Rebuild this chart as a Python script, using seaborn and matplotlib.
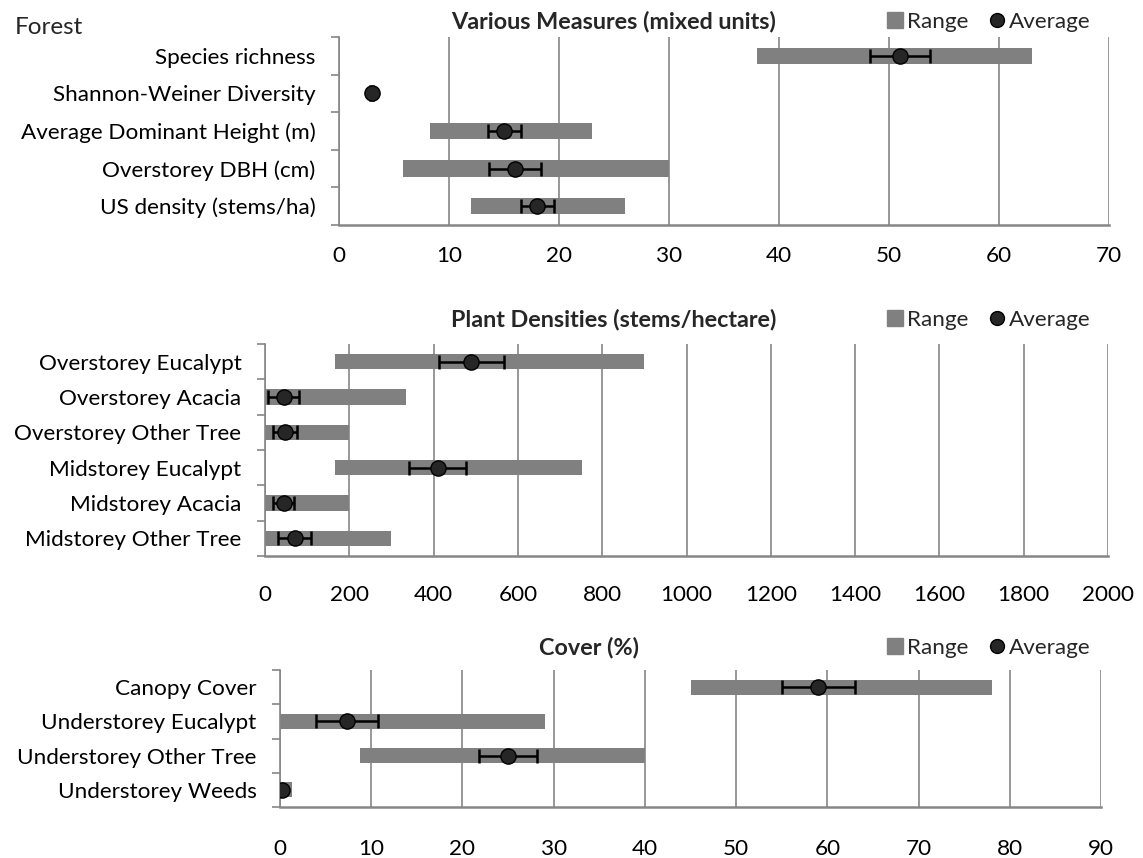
import numpy as np
import pandas as pd
import matplotlib
matplotlib.use("Agg")
import matplotlib.pyplot as plt
from matplotlib.lines import Line2D
import seaborn as sns

# ---- Panel 1: various measures (mixed units) ----
p1_categories = ["Species richness", "Shannon-Weiner Diversity",
                 "Average Dominant Height (m)", "Overstorey DBH (cm)",
                 "US density (stems/ha)"]
p1_low = [38, 2.7, 8.3, 5.8, 12]
p1_high = [63, 3.3, 23, 30, 26]
p1_mean = [51, 3.0, 15, 16, 18]
p1_err = [2.7, 0.05, 1.5, 2.4, 1.5]
p1_ticks = [0, 10, 20, 30, 40, 50, 60, 70]

# ---- Panel 2: plant densities (stems/hectare) ----
p2_categories = ["Overstorey Eucalypt", "Overstorey Acacia",
                 "Overstorey Other Tree", "Midstorey Eucalypt",
                 "Midstorey Acacia", "Midstorey Other Tree"]
p2_low = [166, 0, 0, 166, 0, 0]
p2_high = [900, 335, 200, 752, 200, 300]
p2_mean = [489, 44, 48, 410, 44, 70]
p2_err = [77, 37, 28, 68, 24, 40]
p2_ticks = [0, 200, 400, 600, 800, 1000, 1200, 1400, 1600, 1800, 2000]

# ---- Panel 3: cover (%) ----
p3_categories = ["Canopy Cover", "Understorey Eucalypt",
                 "Understorey Other Tree", "Understorey Weeds"]
p3_low = [45, 0, 8.8, 0]
p3_high = [78, 29, 40, 1.3]
p3_mean = [59, 7.3, 25, 0.2]
p3_err = [4, 3.4, 3.2, 0.1]
p3_ticks = [0, 10, 20, 30, 40, 50, 60, 70, 80, 90]

BAR = "#808080"
DOT = "#262626"
AXIS = "#868686"

sns.set_theme(style="white")
plt.rcParams["font.family"] = ["Lato", "DejaVu Sans"]

W, H = 1143, 858
fig = plt.figure(figsize=(W / 100, H / 100), dpi=100)


def rect(l, t, r, b):
    return [l / W, 1 - b / H, (r - l) / W, (b - t) / H]


FS = 16.2
TITLE_FS = 16.8


def draw_panel(ax, cats, low, high, mean, err, ticks, xpad):
    n = len(cats)
    df = pd.DataFrame({"cat": cats, "pos": np.arange(n),
                       "low": low, "high": high, "mean": mean, "err": err})
    ax.set_axisbelow(True)
    ax.barh(df["pos"], df["high"] - df["low"], left=df["low"], height=0.44,
            color=BAR, edgecolor="none", zorder=2)
    ax.errorbar(df["mean"], df["pos"], xerr=df["err"], fmt="none",
                ecolor="black", elinewidth=1.8, capsize=5, capthick=1.8,
                zorder=3)
    sns.scatterplot(data=df, x="mean", y="pos", ax=ax, s=120, color=DOT,
                    edgecolor="black", linewidth=1.0, zorder=4, legend=False)
    ax.set_xlim(ticks[0], ticks[-1])
    ax.set_ylim(n - 0.5, -0.5)
    ax.set_xticks(ticks)
    ax.set_xticklabels([str(t) for t in ticks], fontsize=FS)
    ax.set_yticks(df["pos"])
    ax.set_yticklabels(cats, fontsize=FS)
    ax.set_yticks(np.arange(-0.5, n, 1.0), minor=True)
    ax.tick_params(axis="y", which="major", length=0, pad=17, colors="black")
    ax.tick_params(axis="y", which="minor", length=6, width=1.2,
                   color=AXIS, left=True)
    ax.tick_params(axis="x", which="major", length=0, pad=xpad,
                   colors="black")
    ax.grid(axis="x", color=AXIS, linewidth=1.2)
    ax.grid(axis="y", visible=False)
    for side in ("top", "right"):
        ax.spines[side].set_visible(False)
    ax.spines["left"].set_color(AXIS)
    ax.spines["left"].set_linewidth(1.2)
    ax.spines["bottom"].set_color(AXIS)
    ax.spines["bottom"].set_linewidth(1.8)
    ax.set_xlabel("")
    ax.set_ylabel("")


def add_title_legend(ax, title, title_x, title_y, leg_x, leg_y):
    fig.text(title_x / W, 1 - title_y / H, title, ha="center", va="center",
             fontsize=TITLE_FS, fontweight="bold")
    handles = [
        Line2D([], [], marker="s", linestyle="none", markersize=11,
               markerfacecolor=BAR, markeredgecolor=BAR, label="Range"),
        Line2D([], [], marker="o", linestyle="none", markersize=10,
               markerfacecolor=DOT, markeredgecolor="black", label="Average"),
    ]
    ax.legend(handles=handles, loc="center left", ncol=2, frameon=False,
              bbox_to_anchor=(leg_x / W, 1 - leg_y / H),
              bbox_transform=fig.transFigure, fontsize=FS,
              handlelength=0.7, handletextpad=0.2, columnspacing=0.9,
              borderpad=0, borderaxespad=0)


ax1 = fig.add_axes(rect(339, 37, 1109, 225))
ax2 = fig.add_axes(rect(265, 344, 1108, 556))
ax3 = fig.add_axes(rect(280, 670, 1101, 807))

draw_panel(ax1, p1_categories, p1_low, p1_high, p1_mean, p1_err, p1_ticks, 15)
draw_panel(ax2, p2_categories, p2_low, p2_high, p2_mean, p2_err, p2_ticks, 21)
draw_panel(ax3, p3_categories, p3_low, p3_high, p3_mean, p3_err, p3_ticks, 23)

add_title_legend(ax1, "Various Measures (mixed units)", 614, 22, 887, 22)
add_title_legend(ax2, "Plant Densities (stems/hectare)", 614, 320, 887, 320)
add_title_legend(ax3, "Cover (%)", 589, 648, 887, 648)

fig.text(15 / W, 1 - 28 / H, "Forest", ha="left", va="center", fontsize=17.5)

fig.savefig("out.png", dpi=100)
